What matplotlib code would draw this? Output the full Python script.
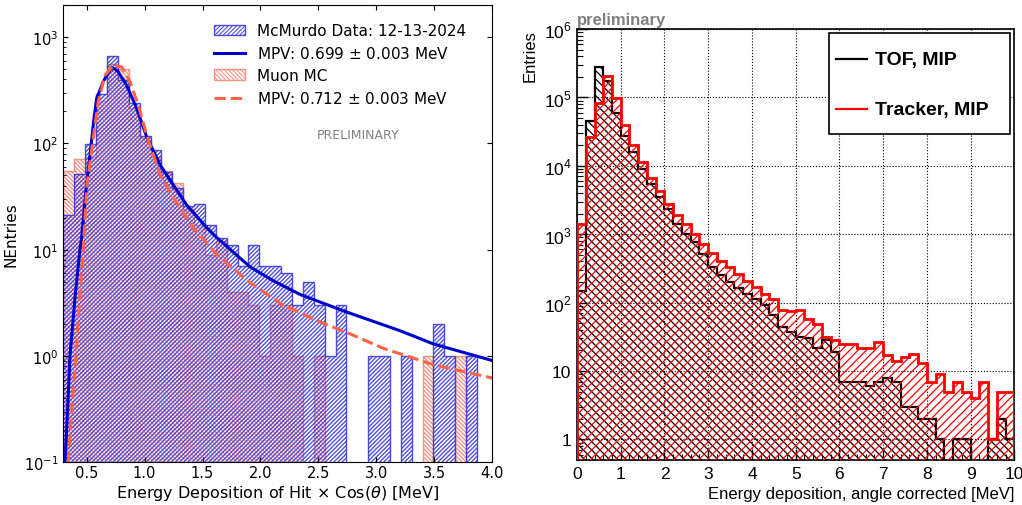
import numpy as np
import matplotlib
matplotlib.use("Agg")
import matplotlib.pyplot as plt
from matplotlib.patches import Patch, Rectangle
from matplotlib.lines import Line2D
from matplotlib.ticker import FixedLocator, LogLocator, NullFormatter, MultipleLocator, FormatStrFormatter

plt.rcParams['hatch.linewidth'] = 0.8
plt.rcParams['mathtext.rm'] = 'Liberation Sans'

# ---------------- Left panel data ----------------
left_edges = np.linspace(0.3, 4.056, 41)
data_counts = [21, 52, 99, 290, 658, 398, 241, 118, 86, 54,
               38, 26, 27, 17, 13, 11, 7, 11, 7, 7,
               6, 3, 5, 3, 1, 3, 0, 0, 1, 1,
               0, 1, 0, 0, 2, 1, 0, 1, 0, 0]
mc_counts = [55, 72, 75, 250, 560, 497, 213, 112, 75, 55,
             42, 24, 17, 9, 12, 4, 4, 3, 1, 3,
             3, 1, 0, 1, 0, 0, 0, 0, 0, 0,
             0, 0, 0, 1, 0, 0, 1, 0, 0, 0]
data_fit_x = [0.313, 0.335, 0.356, 0.40, 0.442, 0.457, 0.49, 0.529, 0.56, 0.586,
              0.643, 0.69, 0.716, 0.745, 0.773, 0.845, 0.932, 1.018, 1.133, 1.247,
              1.363, 1.536, 1.622, 1.909, 2.11, 2.34, 2.714, 3.203, 3.49, 4.0]
data_fit_y = [0.1, 0.3, 1.0, 3.6, 10, 13, 33, 78, 160, 264,
              380, 470, 516, 500, 470, 352, 213, 115, 63, 40.8,
              26.3, 16.1, 13, 6.9, 5.1, 3.8, 2.66, 1.73, 1.3, 0.906]
mc_fit_x = [0.341, 0.37, 0.408, 0.44, 0.471, 0.50, 0.557, 0.60, 0.658, 0.73,
            0.802, 0.874, 0.945, 1.018, 1.133, 1.247, 1.42, 1.622, 1.909, 2.196,
            2.34, 2.485, 2.77, 3.06, 3.49, 4.0]
mc_fit_y = [0.1, 0.3, 1.0, 3.5, 10, 38, 112, 246, 437, 542,
            524, 380, 229, 120, 50.6, 31, 16.1, 9.0, 4.9, 3.0,
            2.57, 2.15, 1.62, 1.18, 0.83, 0.62]
left_xticks = [0.5, 1.0, 1.5, 2.0, 2.5, 3.0, 3.5, 4.0]

# ---------------- Right panel data ----------------
right_edges = np.linspace(0, 10, 51)
tof_counts = [150, 44900, 282000, 172000, 59400, 27700, 15800, 9040, 5400, 3490,
              2300, 1420, 1000, 770, 519, 331, 250, 200, 164, 135,
              112, 91, 66, 44, 37, 31, 30, 22, 28, 19,
              7, 7, 7, 6, 7, 8, 7, 3, 3, 2,
              2, 1, 0, 1, 1, 0, 0, 1, 2, 1]
trk_counts = [1400, 26800, 84000, 208000, 99300, 40100, 20300, 11200, 6600, 4220,
              2750, 1880, 1420, 1000, 714, 532, 410, 330, 265, 209,
              168, 135, 112, 77, 75, 77, 58, 48, 31, 28,
              25, 25, 22, 22, 27, 17, 14, 16, 18, 13,
              7, 9, 5, 7, 5, 4, 7, 1, 5, 5]
right_yticks = [1, 10, 100, 1e3, 1e4, 1e5, 1e6]
right_yticklabels = ['1', '10', '10$^{2}$', '10$^{3}$', '10$^{4}$', '10$^{5}$', '10$^{6}$']

FLOOR = 1e-3


def hatch_lw(artist, w):
    try:
        artist.set_hatch_linewidth(w)
    except Exception:
        pass


fig = plt.figure(figsize=(10.22, 5.06), dpi=100)

# ================= Left panel =================
ax1 = fig.add_axes([0.0621, 0.0844, 0.4196, 0.9036])
mc = np.maximum(np.array(mc_counts, float), FLOOR)
dat = np.maximum(np.array(data_counts, float), FLOOR)
mc_color = (0.96, 0.48, 0.42, 0.8)
dat_color = (0.20, 0.20, 0.85, 0.85)
mc_hatch = '\\' * 8
dat_hatch = '/' * 8
p_mc = ax1.stairs(mc, left_edges, baseline=FLOOR, fill=True, facecolor='none',
                  edgecolor=mc_color, hatch=mc_hatch, lw=1.0)
p_dat = ax1.stairs(dat, left_edges, baseline=FLOOR, fill=True, facecolor='none',
                   edgecolor=dat_color, hatch=dat_hatch, lw=1.0)
hatch_lw(p_mc, 1.0)
hatch_lw(p_dat, 1.0)
l_dat, = ax1.plot(data_fit_x, data_fit_y, color='#0000cc', lw=2.2)
l_mc, = ax1.plot(mc_fit_x, mc_fit_y, color='#ff6347', lw=2.2, ls='--')

ax1.set_yscale('log')
ax1.set_xlim(0.3, 4.0)
ax1.set_ylim(0.1, 2000)
ax1.xaxis.set_major_locator(FixedLocator(left_xticks))
ax1.xaxis.set_major_formatter(FormatStrFormatter('%.1f'))
ax1.tick_params(which='both', direction='in', labelsize=10.5)
ax1.tick_params(axis='x', pad=2)
ax1.tick_params(which='major', top=True, right=True)
ax1.set_xlabel(r'Energy Deposition of Hit $\times$ Cos($\theta$) [MeV]', fontsize=11.5, labelpad=2)
ax1.set_ylabel('NEntries', fontsize=11)

h_dat = Patch(facecolor='none', edgecolor=dat_color, hatch=dat_hatch, lw=1.0)
h_mc = Patch(facecolor='none', edgecolor=mc_color, hatch=mc_hatch, lw=1.0)
hatch_lw(h_dat, 1.0)
hatch_lw(h_mc, 1.0)
ax1.legend([h_dat, l_dat, h_mc, l_mc],
           ['McMurdo Data: 12-13-2024', 'MPV: 0.699 $\\pm$ 0.003 MeV',
            'Muon MC', 'MPV: 0.712 $\\pm$ 0.003 MeV'],
           loc='upper left', bbox_to_anchor=(0.32, 0.99), frameon=False,
           fontsize=11, handlelength=2.0, labelspacing=0.45)
ax1.text(0.687, 0.718, 'PRELIMINARY', transform=ax1.transAxes, ha='center',
         va='center', fontsize=9, color='gray')

# ================= Right panel =================
ax2 = fig.add_axes([0.5646, 0.0889, 0.4279, 0.8518])
tof = np.maximum(np.array(tof_counts, float), FLOOR)
trk = np.maximum(np.array(trk_counts, float), FLOOR)
p_tof = ax2.stairs(tof, right_edges, baseline=FLOOR, fill=True, facecolor='none',
                   edgecolor='black', hatch='\\\\\\\\', lw=1.6, zorder=2)
p_trk = ax2.stairs(trk, right_edges, baseline=FLOOR, fill=True, facecolor='none',
                   edgecolor='red', hatch='////', lw=2.0, zorder=3)
hatch_lw(p_tof, 0.9)
hatch_lw(p_trk, 0.9)

ax2.set_yscale('log')
ax2.set_xlim(0, 10)
ax2.set_ylim(0.5, 1e6)
ax2.xaxis.set_major_locator(MultipleLocator(1))
ax2.xaxis.set_minor_locator(MultipleLocator(0.2))
ax2.yaxis.set_major_locator(FixedLocator(right_yticks))
ax2.yaxis.set_minor_locator(LogLocator(base=10, subs=np.arange(2, 10)))
ax2.yaxis.set_minor_formatter(NullFormatter())
ax2.set_yticklabels(right_yticklabels, fontfamily='Liberation Sans',
                    math_fontfamily='custom', fontsize=12.5)
ax2.set_xticks(range(0, 11))
ax2.set_xticklabels([str(i) for i in range(0, 11)], fontfamily='Liberation Sans', fontsize=12.5)
ax2.tick_params(which='major', direction='in', length=8, width=1, pad=4)
ax2.tick_params(which='minor', direction='in', length=4, width=0.8)
ax2.grid(True, which='major', linestyle=':', color='black', lw=0.8)
for s in ax2.spines.values():
    s.set_linewidth(1.2)
ax2.set_xlabel('Energy deposition, angle corrected [MeV]', loc='right',
               fontfamily='Liberation Sans', fontsize=12)
ax2.set_ylabel('Entries', loc='top', fontfamily='Liberation Sans', fontsize=12)
ax2.text(0.0, 1.005, 'preliminary', transform=ax2.transAxes, ha='left', va='bottom',
         fontfamily='Liberation Sans', fontweight='bold', fontsize=12, color='#808080')

# manual ROOT-style legend box
ax2.add_patch(Rectangle((0.577, 0.756), 0.412, 0.234, transform=ax2.transAxes,
                        facecolor='white', edgecolor='black', lw=1.2, zorder=5))
ax2.add_line(Line2D([0.592, 0.663], [0.930, 0.930], transform=ax2.transAxes,
                    color='black', lw=1.6, zorder=6))
ax2.add_line(Line2D([0.592, 0.663], [0.814, 0.814], transform=ax2.transAxes,
                    color='red', lw=1.6, zorder=6))
ax2.text(0.681, 0.930, 'TOF, MIP', transform=ax2.transAxes, va='center', ha='left',
         fontfamily='Liberation Sans', fontweight='bold', fontsize=14, zorder=6)
ax2.text(0.681, 0.814, 'Tracker, MIP', transform=ax2.transAxes, va='center', ha='left',
         fontfamily='Liberation Sans', fontweight='bold', fontsize=14, zorder=6)

fig.savefig('out.png', dpi=100)
